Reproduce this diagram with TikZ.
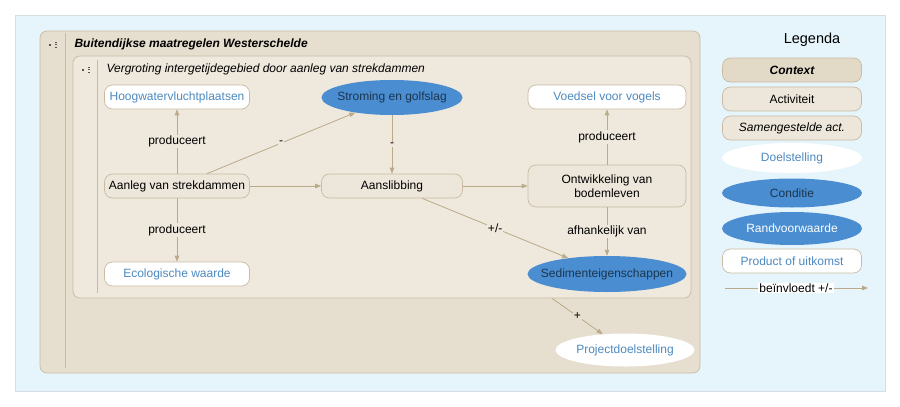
\documentclass[tikz,border=0pt]{standalone}
\usepackage{fontspec}
\setmainfont{Liberation Sans}
\usetikzlibrary{arrows.meta,shapes.geometric}
\definecolor{skybg}{HTML}{E6F5FC}
\definecolor{skyline}{HTML}{D6DEE2}
\definecolor{outerbg}{HTML}{E6DECE}
\definecolor{innerbg}{HTML}{EEE8DD}
\definecolor{boxline}{HTML}{C8BBA2}
\definecolor{actfill}{HTML}{EDE6DA}
\definecolor{ctxfill}{HTML}{E2D9C7}
\definecolor{arrowc}{HTML}{BBAA8A}
\definecolor{condblue}{HTML}{4A8DD0}
\definecolor{goaltext}{HTML}{4D89C0}
\definecolor{darktext}{HTML}{1B3550}
\definecolor{icongray}{HTML}{555555}
\newcommand{\zw}[1]{\makebox[0pt][c]{#1}}
\tikzset{
  every node/.style={font=\fontsize{12}{14}\selectfont},
  rbox/.style={draw=boxline, line width=0.7pt, rounded corners=8pt, minimum width=145pt, minimum height=24pt, inner sep=1pt, align=center},
  actbox/.style={rbox, fill=actfill, text=black},
  prodbox/.style={rbox, fill=white, text=goaltext},
  condell/.style={ellipse, fill=condblue, draw=none, inner sep=0pt},
  goalell/.style={ellipse, fill=white, draw=none, inner sep=0pt, text=goaltext},
  conn/.style={draw=arrowc, line width=0.8pt, -{Triangle[length=6pt,width=4.5pt]}},
  lbl/.style={fill=innerbg, inner sep=1pt, text=black},
  icondot/.style={fill=icongray, draw=none},
}
\begin{document}
\begin{tikzpicture}[x=1pt,y=-1pt]
\useasboundingbox[fill=white] (0,0) rectangle (900,407);
% light blue background
\draw[skyline, fill=skybg] (15,15) rectangle (885,391);
% outer context
\draw[boxline, fill=outerbg, line width=0.7pt, rounded corners=7pt] (40,31) rectangle (700,373);
\draw[boxline, line width=0.8pt] (65,33) -- (65,368);
\node[anchor=west, font=\fontsize{12}{14}\selectfont\bfseries\itshape] (outertitle) at (71,44) {Buitendijkse maatregelen Westerschelde};
\fill[icondot] (48.5,43.5) rectangle (50.5,45.5);
\fill[icondot] (54.5,41.5) rectangle (56.5,42.5);
\fill[icondot] (54.5,44) rectangle (56.5,45);
\fill[icondot] (54.5,46.5) rectangle (56.5,47.5);
% inner context
\node[draw=boxline, fill=innerbg, line width=0.7pt, rounded corners=7pt, minimum width=618pt, minimum height=242pt, inner sep=0pt] (inner) at (382,177) {};
\draw[boxline, line width=0.8pt] (97,60) -- (97,293);
\node[anchor=west, font=\fontsize{12}{14}\selectfont\itshape] (innertitle) at (103,69) {Vergroting intergetijdegebied door aanleg van strekdammen};
\fill[icondot] (81.5,68.5) rectangle (83.5,70.5);
\fill[icondot] (87.5,66.5) rectangle (89.5,67.5);
\fill[icondot] (87.5,69) rectangle (89.5,70);
\fill[icondot] (87.5,71.5) rectangle (89.5,72.5);
% nodes
\node[prodbox] (hoog) at (177,97) {Hoogwatervluchtplaatsen};
\node[condell, minimum width=141pt, minimum height=35pt, text=darktext] (strom) at (392,97.5) {\zw{Stroming en golfslag}};
\node[prodbox, minimum width=158pt] (voed) at (607,97) {Voedsel voor vogels};
\node[actbox] (aanleg) at (177,186) {Aanleg van strekdammen};
\node[actbox, minimum width=141pt] (aansl) at (392,186) {Aanslibbing};
\node[actbox, minimum width=158pt, minimum height=42pt] (ontw) at (607,186) {Ontwikkeling van\\bodemleven};
\node[condell, minimum width=159pt, minimum height=36pt, text=darktext] (sed) at (607,274) {\zw{Sedimenteigenschappen}};
\node[prodbox] (eco) at (177,274) {Ecologische waarde};
\node[goalell, minimum width=139pt, minimum height=33pt] (proj) at (625,350) {\zw{Projectdoelstelling}};
% connectors
\draw[conn] (aanleg) -- node[lbl] {produceert} (hoog);
\draw[conn] (aanleg) -- node[lbl] {produceert} (eco);
\draw[conn] (aanleg) -- node[lbl] {-} (strom);
\draw[conn] (aanleg) -- (aansl);
\draw[conn] (strom) -- node[lbl] {-} (aansl);
\draw[conn] (aansl) -- (ontw);
\draw[conn] (aansl) -- node[lbl] {+/-} (sed);
\draw[conn] (ontw) -- node[lbl] {produceert} (voed);
\draw[conn] (ontw) -- node[lbl] {afhankelijk van} (sed);
\draw[conn] (inner) -- node[lbl, fill=outerbg] {+} (proj);
% legend
\node[font=\fontsize{14.5}{17}\selectfont] (legtitle) at (812,40) {Legenda};
\node[rbox, fill=ctxfill, minimum width=139pt, font=\fontsize{12}{14}\selectfont\bfseries\itshape] (lctx) at (792,70) {Context};
\node[actbox, minimum width=139pt] (lact) at (792,99) {Activiteit};
\node[actbox, minimum width=139pt, font=\fontsize{12}{14}\selectfont\itshape] (lsam) at (792,128) {Samengestelde act.};
\node[goalell, minimum width=140pt, minimum height=30pt] (ldoel) at (792,158) {\zw{Doelstelling}};
\node[condell, minimum width=140pt, minimum height=29pt, text=darktext] (lcond) at (792,193) {\zw{Conditie}};
\node[condell, minimum width=140pt, minimum height=33pt, text=white] (lrand) at (792,228.5) {\zw{Randvoorwaarde}};
\node[prodbox, minimum width=139pt] (lprod) at (792,261) {Product of uitkomst};
\coordinate (la) at (725,288);
\coordinate (lb) at (868,288);
\draw[conn] (la) -- (lb);
\node[fill=white, inner sep=1pt] (lbeinv) at (796,288) {beïnvloedt +/-};
\end{tikzpicture}
\end{document}
